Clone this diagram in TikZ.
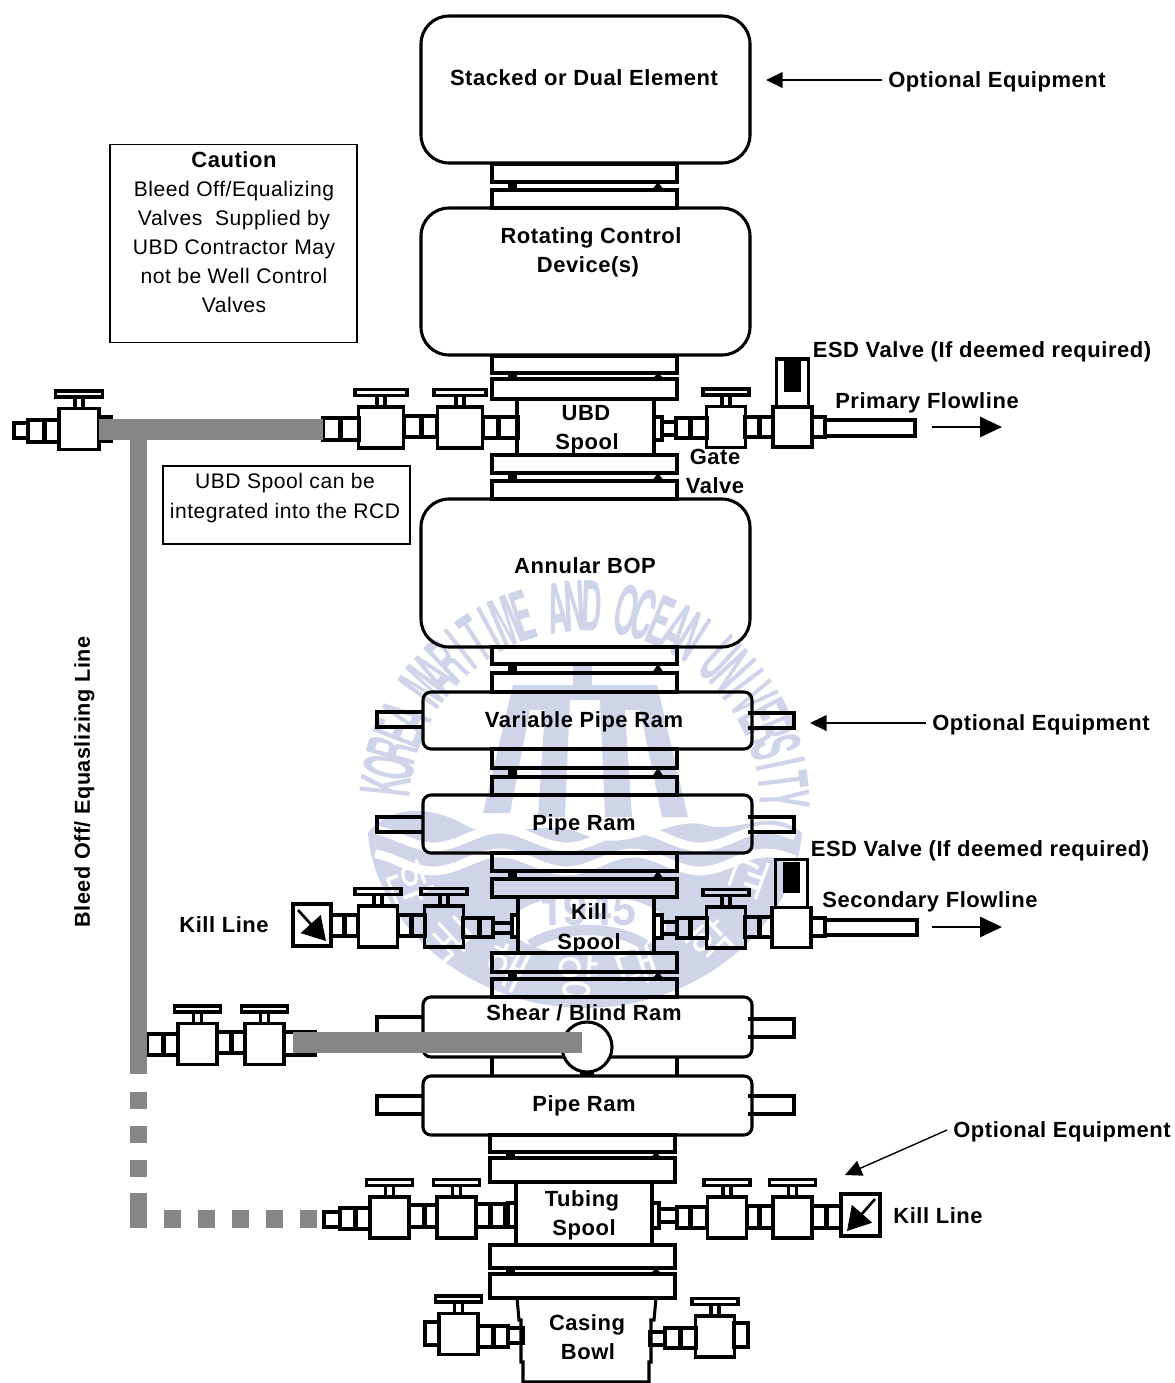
\documentclass[tikz,border=0pt]{standalone}
\usepackage{fontspec}
\setmainfont[LetterSpace=2.5]{Liberation Sans}
\newfontfamily\sealfont{TeX Gyre Heros}
\newfontfamily\sealkorean{Noto Sans CJK KR}
\usetikzlibrary{arrows.meta}

\definecolor{bleedgray}{HTML}{858785}
\definecolor{sealblue}{HTML}{D0D4E8}

\tikzset{
    equip/.style={line width=1.75pt, black},
    notebox/.style={draw, line width=0.6pt},
    eqlabel/.style={font=\fontsize{12.5}{14}\selectfont\bfseries, text height=9pt, text depth=0pt},
    notelabel/.style={font=\fontsize{12}{14}\selectfont, text height=9pt, text depth=0pt},
    pointer/.style={line width=0.8pt, -{Triangle[length=9.5pt,width=9pt]}},
    flowarrow/.style={line width=1.3pt, -{Triangle[length=12.5pt,width=11.5pt]}},
    killarrow/.style={line width=1.5pt, -{Triangle[length=13pt,width=15pt]}}
}

%% Two flanges with the gasket marks between them
\newcommand{\flangepair}[6]{
    \draw[equip] (#1,#3) rectangle (#2,#4);
    \draw[equip] (#1,#5) rectangle (#2,#6);
    \fill ({#1+16},#4) rectangle ({#1+25},#5);
    \fill ({#2-25},#5) -- ({#2-19},#4) -- ({#2-13},#5) -- cycle;
}
%% Ram body with its two side stubs
\newcommand{\ramblock}[6]{
    \draw[equip] (423,#3) -- (377,#3) -- (377,#4) -- (423,#4);
    \draw[equip] (748,#5) -- (794,#5) -- (794,#6) -- (748,#6);
    \draw[equip, rounded corners=0.16cm] (423,#1) rectangle (752,#2);
}
%% Hand wheel valve
\newcommand{\gatevalve}[3][19.5]{
    \draw[equip] ({#2-#1},{#3-20.5}) rectangle ({#2+#1},{#3+20.5});
    \draw[equip] ({#2-4},{#3-20.5}) rectangle ({#2+4},{#3-32});
    \draw[equip] ({#2-#1-3.5},{#3-32}) rectangle ({#2+#1+3.5},{#3-38});
}
%% Pipe coupling with a black band
\newcommand{\coupling}[5]{
    \draw[equip] (#1,#3) rectangle (#2,#4);
    \fill ({#5-2.5},#3) rectangle ({#5+2.5},#4);
}
%% ESD valve with its actuator
\newcommand{\esdvalve}[2]{
    \draw[equip] ({#1-19.5},{#2-20}) rectangle ({#1+19.5},{#2+20});
    \draw[equip] ({#1-16},{#2-20}) -- ({#1-16},{#2-68}) -- ({#1+16},{#2-68}) -- ({#1+16},{#2-20});
    \fill ({#1-8.5},{#2-66}) rectangle ({#1+8.5},{#2-35});
}

\begin{document}
\begin{tikzpicture}[x=0.02cm, y=-0.02cm]
    \useasboundingbox (0,0) rectangle (1174,1383);

    %% Seal behind the drawing
    \fill[sealblue] (368,833) .. controls (390,805) and (430,805) .. (465,825)
        .. controls (500,845) and (540,815) .. (585,835)
        .. controls (630,855) and (670,815) .. (705,825)
        .. controls (740,835) and (770,805) .. (802,833)
        .. controls (795,925) and (700,1008) .. (585,1008)
        .. controls (470,1008) and (375,925) .. (368,833) -- cycle;
    \foreach \wy in {838,862}
        \draw[white, line width=5pt, domain=375:795, samples=60]
            plot (\x,{\wy+9*sin(2.7*\x)});
    \fill[white] (588,925) ellipse (78 and 30);
    \fill[sealblue] (483,813) -- (513,685) -- (657,685) -- (688,817) -- (662,817)
        -- (640,710) -- (625,710) -- (632,817) -- (605,817) -- (600,700) -- (570,700)
        -- (565,817) -- (538,817) -- (545,710) -- (530,710) -- (510,813) -- cycle;
    \fill[sealblue] (573,662) rectangle (592,700);
    \foreach \ch [count=\i from 0] in {K,O,R,E,A,{},M,A,R,I,T,I,M,E,{},A,N,D,{},O,C,E,A,N,{},U,N,I,V,E,R,S,I,T,Y}{
        \pgfmathsetmacro{\ang}{174-\i*5.06}
        \node[sealblue, rotate=\ang-90, font=\sealfont\bfseries\fontsize{39}{39}\selectfont]
            (seal\i) at ({585+200*cos(\ang)},{806-200*sin(\ang)}) {\scalebox{.42}[1]{\ch}};
    }
    \foreach \ch/\hx/\hy/\hrot [count=\i from 0] in {한/410/883/-69,국/450/940/-47,해/507/967/-27,양/577/977/-3,대/637/967/19,학/710/940/45,교/750/877/70}{
        \node[white, rotate=\hrot, font=\sealkorean\fontsize{27}{27}\selectfont]
            (hangul\i) at (\hx,\hy) {\ch};
    }
    \node[sealblue, font=\sealfont\bfseries\fontsize{25}{25}\selectfont] (sealyear) at (588,910) {1945};
    \draw[sealblue, line width=6pt] (530,945) .. controls (560,925) and (615,925) .. (645,945);

    %% Main stack
    \draw[equip, rounded corners=0.56cm] (421,16) rectangle (750,163);
    \flangepair{492}{677}{164}{182}{190}{208}
    \draw[equip, rounded corners=0.56cm] (421,208) rectangle (750,355);
    \flangepair{492}{677}{356}{373}{379}{399}
    \draw[equip] (517,399) -- (517,455);
    \draw[equip] (654,399) -- (654,455);
    \flangepair{492}{677}{455}{473}{481}{499}
    \draw[equip, rounded corners=0.56cm] (421,499) rectangle (750,647);
    \flangepair{492}{677}{647}{664}{673}{692}
    \ramblock{692}{749}{712}{727}{713}{728}
    \flangepair{492}{677}{749}{768}{777}{795}
    \ramblock{795}{853}{817}{832}{817}{832}
    \flangepair{492}{677}{853}{871}{879}{897}
    \draw[equip] (518,897) -- (518,953);
    \draw[equip] (654,897) -- (654,953);
    \flangepair{492}{677}{953}{972}{979}{997}
    \ramblock{997}{1057}{1017}{1042}{1019}{1037}
    \draw[equip] (492,1057) -- (492,1076);
    \draw[equip] (677,1057) -- (677,1076);
    \ramblock{1076}{1135}{1096}{1114}{1096}{1114}
    \flangepair{490}{675}{1135}{1152}{1158}{1182}
    \draw[equip] (516,1182) -- (516,1245);
    \draw[equip] (652,1182) -- (652,1245);
    \flangepair{490}{675}{1245}{1268}{1274}{1298}
    \draw[equip] (517,1298) -- (519,1320) -- (521,1320) -- (521,1362) -- (523,1362) -- (523,1382)
        -- (649,1382) -- (649,1362) -- (651,1362) -- (651,1320) -- (654,1320) -- (656,1298);
    \fill (580,1070) rectangle (594,1076);
    \draw[equip, fill=white] (587,1047) circle (25);

    %% UBD spool, left side
    \draw[equip] (14,423) rectangle (28,438);
    \coupling{28}{59}{420}{442}{44}
    \gatevalve[20]{79}{429}
    \draw[equip] (99,417) -- (113,417);
    \draw[equip] (99,441) -- (113,441);
    \coupling{323}{359}{418}{440}{340}
    \gatevalve[22.5]{381}{427.5}
    \coupling{404}{437}{416}{437}{421}
    \gatevalve[22.5]{460}{427.5}
    \coupling{483}{518}{417}{438}{498}

    %% UBD spool, right side
    \draw[equip] (654,417) rectangle (662,440);
    \draw[equip] (662,422) rectangle (676,435);
    \coupling{676}{707}{418}{438}{690}
    \gatevalve{726}{427}
    \coupling{745}{773}{417}{437}{759}
    \esdvalve{792.5}{427}
    \draw[equip] (812,417) rectangle (825,437);
    \draw[equip] (825,420) rectangle (915,436);

    %% Kill spool, left side
    \draw[equip] (293,904) rectangle (331,946);
    \coupling{331}{358}{915}{936}{344}
    \gatevalve{378}{926.5}
    \coupling{398}{425}{915}{936}{411}
    \gatevalve{444}{926.5}
    \coupling{463}{493}{918}{937}{479}
    \draw[equip] (493,923) rectangle (512,933);
    \draw[equip] (512,915) rectangle (518,937);

    %% Kill spool, right side
    \draw[equip] (654,915) rectangle (662,938);
    \draw[equip] (662,922) rectangle (677,934);
    \coupling{677}{707}{918}{938}{690}
    \gatevalve{726}{927.5}
    \coupling{745}{772}{917}{937}{759}
    \esdvalve{791.5}{927.5}
    \draw[equip] (811,918) rectangle (825,936);
    \draw[equip] (825,920) rectangle (917,935);

    %% Bleed off valves on the shear ram
    \coupling{147}{178}{1034}{1055}{163}
    \gatevalve{197.5}{1044}
    \coupling{217}{245}{1032}{1053}{231}
    \gatevalve{264.5}{1044}
    \coupling{284}{315}{1032}{1055}{300}

    %% Tubing spool, left side
    \draw[equip] (324,1212) rectangle (340,1227);
    \coupling{340}{370}{1208}{1229}{355}
    \gatevalve{389.5}{1217.5}
    \coupling{409}{437}{1205}{1227}{424}
    \gatevalve{456.5}{1217.5}
    \coupling{476}{505}{1204}{1227}{490}
    \draw[equip] (508,1203) rectangle (516,1227);

    %% Tubing spool, right side
    \draw[equip] (652,1203) rectangle (659,1228);
    \draw[equip] (659,1209) rectangle (677,1222);
    \coupling{677}{707}{1207}{1228}{690}
    \gatevalve{727}{1217.5}
    \coupling{747}{773}{1206}{1228}{759}
    \gatevalve{792.5}{1217.5}
    \coupling{812}{841}{1206}{1228}{826}
    \draw[equip] (841,1194) rectangle (880,1236);

    %% Casing bowl valves
    \draw[equip] (425,1322) rectangle (439,1345);
    \gatevalve{458.5}{1334}
    \coupling{478}{508}{1326}{1347}{493}
    \draw[equip] (508,1328) rectangle (523,1343);
    \draw[equip] (650,1332) rectangle (665,1345);
    \coupling{665}{696}{1328}{1348}{680}
    \gatevalve{715}{1336.5}
    \draw[equip] (734,1323) rectangle (748,1347);

    %% Bleed off line
    \fill[bleedgray] (99,419) rectangle (323,440);
    \fill[bleedgray] (130,419) rectangle (147,1074);
    \fill[bleedgray] (293,1032) rectangle (582,1053);
    \foreach \yy in {1092,1126,1160}
        \fill[bleedgray] (130,\yy) rectangle (147,\yy+17);
    \fill[bleedgray] (130,1193) rectangle (147,1228);
    \foreach \xx in {164,198,232,266,300}
        \fill[bleedgray] (\xx,1210) rectangle (\xx+17,1228);

    %% Labels in the stack
    \node[eqlabel] (stackedlbl) at (584,78) {Stacked or Dual Element};
    \node[eqlabel] (rcdlbla) at (591,236) {Rotating Control};
    \node[eqlabel] (rcdlblb) at (588,265) {Device(s)};
    \node[eqlabel] (ubdlbla) at (586,413) {UBD};
    \node[eqlabel] (ubdlblb) at (587,442) {Spool};
    \node[eqlabel] (annularlbl) at (585,566) {Annular BOP};
    \node[eqlabel] (varramlbl) at (584,720) {Variable Pipe Ram};
    \node[eqlabel] (piperamlbla) at (584,823) {Pipe Ram};
    \node[eqlabel] (killlbla) at (589,912) {Kill};
    \node[eqlabel] (killlblb) at (589,942) {Spool};
    \node[eqlabel] (shearlbl) at (584,1013) {Shear / Blind Ram};
    \node[eqlabel] (piperamlblb) at (584,1104) {Pipe Ram};
    \node[eqlabel] (tubinglbla) at (582,1199) {Tubing};
    \node[eqlabel] (tubinglblb) at (584,1228) {Spool};
    \node[eqlabel] (casinglbla) at (587,1323) {Casing};
    \node[eqlabel] (casinglblb) at (588,1352) {Bowl};

    %% Labels around the stack
    \node[eqlabel] (optstack) at (997,80) {Optional Equipment};
    \node[eqlabel] (optram) at (1041,723) {Optional Equipment};
    \node[eqlabel] (opttubing) at (1062,1130) {Optional Equipment};
    \node[eqlabel] (esdtop) at (982,350) {ESD Valve (If deemed required)};
    \node[eqlabel] (esdlow) at (980,849) {ESD Valve (If deemed required)};
    \node[eqlabel] (primary) at (927,401) {Primary Flowline};
    \node[eqlabel] (secondary) at (930,900) {Secondary Flowline};
    \node[eqlabel] (gatelbl) at (715,457) {Gate};
    \node[eqlabel] (valvelbl) at (715,486) {Valve};
    \node[eqlabel] (killleft) at (224,925) {Kill Line};
    \node[eqlabel] (killright) at (938,1216) {Kill Line};
    \node[eqlabel, rotate=90, font=\fontsize{12.3}{14}\selectfont\bfseries] (bleedlbl) at (82,782) {Bleed Off/ Equaslizing Line};

    %% Note boxes
    \node[notebox, minimum width=4.94cm, minimum height=3.96cm] (cautionbox) at (233.5,243.5) {};
    \node[eqlabel] (cautionlbl) at (234,160) {Caution};
    \node[notelabel] (cautiona) at (234,189) {Bleed Off/Equalizing};
    \node[notelabel] (cautionb) at (234,218) {Valves\ \ Supplied by};
    \node[notelabel] (cautionc) at (234,247) {UBD Contractor May};
    \node[notelabel] (cautiond) at (234,276) {not be Well Control};
    \node[notelabel] (cautione) at (234,305) {Valves};
    \node[notebox, minimum width=4.94cm, minimum height=1.56cm] (spoolbox) at (286.5,505) {};
    \node[notelabel] (spoollbla) at (285,481) {UBD Spool can be};
    \node[notelabel] (spoollblb) at (285,511) {integrated into the RCD};

    %% Arrows
    \coordinate (optstacktip) at (766,80);
    \coordinate (optramtip) at (810,723);
    \coordinate (opttubingtip) at (845,1175);
    \coordinate (primarytail) at (932,427);
    \coordinate (primarytip) at (1002,427);
    \coordinate (secondarytail) at (932,927);
    \coordinate (secondarytip) at (1002,927);
    \coordinate (killlefttail) at (298,910);
    \coordinate (killlefttip) at (326,941);
    \coordinate (killrighttail) at (875,1199);
    \coordinate (killrighttip) at (847,1231);
    \draw[pointer] (optstack.west) -- (optstacktip);
    \draw[pointer] (optram.west) -- (optramtip);
    \draw[pointer] (opttubing.west) -- (opttubingtip);
    \draw[flowarrow] (primarytail) -- (primarytip);
    \draw[flowarrow] (secondarytail) -- (secondarytip);
    \draw[killarrow] (killlefttail) -- (killlefttip);
    \draw[killarrow] (killrighttail) -- (killrighttip);
\end{tikzpicture}
\end{document}
